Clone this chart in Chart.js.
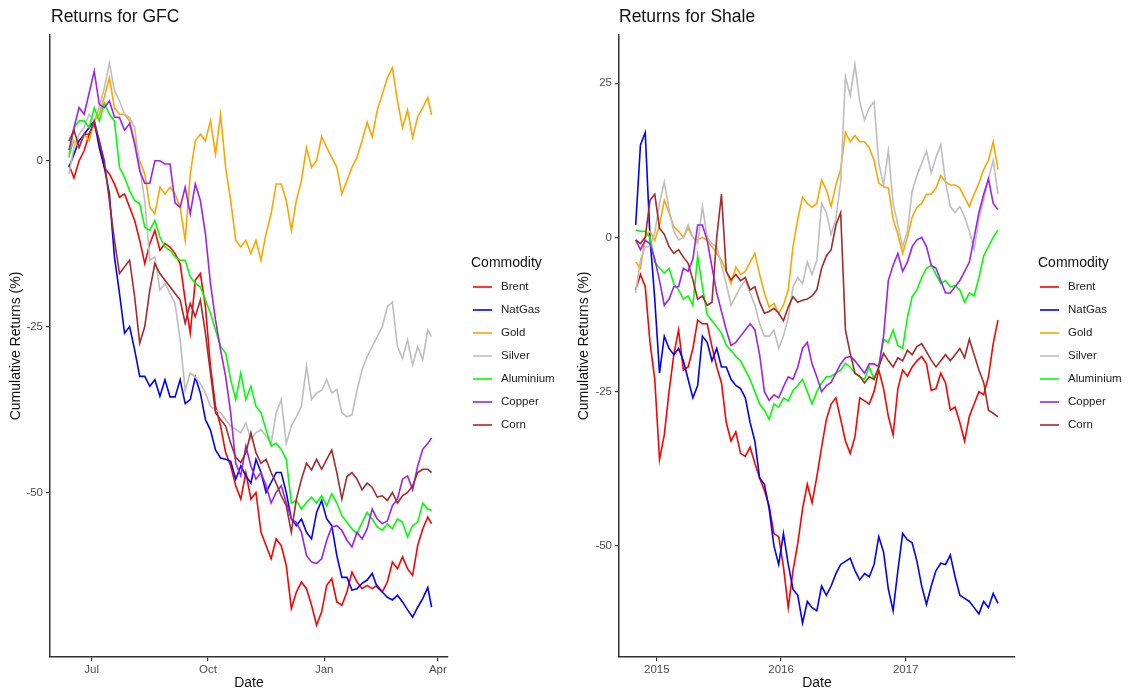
<!DOCTYPE html>
<html>
<head>
<meta charset="utf-8">
<title>Returns for GFC and Shale</title>
<script src="https://cdn.jsdelivr.net/npm/chart.js@4.4.0/dist/chart.umd.min.js"></script>
<style>
  html, body { margin: 0; padding: 0; background: #fff; }
  #wrap { position: relative; width: 1140px; height: 693px; }
  canvas { position: absolute; top: 0; }
  #gfc { left: 0; }
  #shale { left: 570px; }
</style>
</head>
<body>
<div id="wrap">
  <canvas id="gfc" width="570" height="693"></canvas>
  <canvas id="shale" width="570" height="693"></canvas>
</div>
<script>
const commodities = ['Brent', 'NatGas', 'Gold', 'Silver', 'Aluminium', 'Copper', 'Corn'];
const lineColours = ['#FF0000', '#0000FF', '#FFA500', '#BEBEBE', '#00FF00', '#A020F0', '#A52A2A'];

// GFC panel, x = days since 1 Jul 2008
const gfcDays = [-18,-14,-10,-6,-2,2,6,10,14,18,22,26,30,34,38,42,46,50,54,58,62,66,70,74,78,82,86,90,94,98,
  102,106,110,114,118,122,126,130,134,138,142,146,150,154,158,162,166,170,174,178,182,186,190,194,198,
  202,206,210,214,218,222,226,230,234,238,242,246,250,254,258,262,266,269];
const gfcTickDays = [0, 92, 184, 274];
const gfcTickLabels = ['Jul', 'Oct', 'Jan', 'Apr'];
const gfcYTicks = [-50, -25, 0];

const gfcBrent = [-0.6,-2.6,0,1.5,4,5.5,3,-1,-2,-3.5,-5.5,-5,-7,-9,-12,-15.5,-12.5,-10.5,-13.5,-12.5,
  -13,-14,-15.5,-21,-26,-18,-17,-22,-31,-37,-40,-44,-46,-49,-51,-47,-51,-50,-56,-58,
  -60,-57,-58,-61,-67.5,-65,-63.5,-64.5,-67,-70,-68,-64,-63,-66.5,-67,-65,-62,-63.5,-64.5,-64,
  -64.5,-64,-65,-63.5,-60.5,-61.5,-59.7,-61.5,-62.5,-58,-55.5,-53.7,-54.7];
const gfcNatGas = [-1,1,3,4,5,6,2,-1,-5,-14.5,-20,-26,-25,-28.5,-32.5,-32.5,-34,-33,-35.5,-33,
  -35.6,-35.6,-33,-36.6,-36,-32.6,-35,-39,-40.6,-43.6,-44.8,-45,-45.3,-48,-46,-47.5,-48.6,-45,-47,-50,
  -48.5,-47,-47,-50,-54,-55,-54,-56,-57,-53,-51.2,-54,-55,-59.5,-62.8,-62.8,-64.7,-64.5,-63.7,-63.2,
  -62.2,-64.3,-65,-65.8,-66.2,-65.5,-66.5,-67.7,-68.8,-67.3,-66,-64.3,-67.3];
const gfcGold = [1,3,2,4,3,6,7,9.6,12.5,8,7,7,6,3,0,-2,-7,-8,-4,-5,
  -4,-5,-7,-12,-2,3,4,3,6,1,7,-1,-6,-12,-13,-12,-14,-12,-15,-11,
  -8,-3.5,-3.5,-6,-10.5,-6,-3,2,-1,0,3.6,2,0.5,-1,-5,-3,-1,0.5,3,5.8,
  3.6,7.6,10,12.5,14,9,5,7.6,3.5,6.6,8,9.5,6.9];
const gfcSilver = [-2,2,4,5,7,6,8,11,14.7,10.6,9,7,6.5,5,-1,-6,-15,-14.5,-19.5,-18.5,
  -20,-21.5,-27,-34.6,-32,-32.6,-33.6,-35,-37,-37.6,-38,-39,-40,-40.5,-41,-39.5,-42,-41,-40.5,-41.5,
  -42.6,-38,-36,-42.6,-40,-38.6,-37,-31,-36,-35,-34.6,-33,-35,-34.5,-38,-38.6,-38.3,-34.6,-31.5,-29.5,
  -28,-26.5,-25,-22,-21.3,-28,-29.8,-27,-30.8,-28,-30,-25.5,-26.5];
const gfcAluminium = [0.5,5,6,6,5,8,6,8.7,7,6,-1,-2.5,-4.5,-6,-6.5,-10,-10.5,-9,-11.5,-13,
  -13.5,-14.5,-15,-15,-17.5,-18.5,-19,-21,-23,-25.5,-28,-29,-33,-36,-32,-36,-34,-37,-38,-40.6,
  -43,-42.6,-43.5,-45,-51.6,-51.2,-52.5,-51.5,-50.7,-51.6,-50.5,-52,-50.2,-51.6,-53.5,-54.5,-55.5,-56.2,-54.5,-53,
  -54,-55.2,-55.7,-54.7,-55.5,-54,-54.5,-56.7,-55,-54.5,-51.6,-52.5,-52.7];
const gfcCopper = [1.6,5,8,7,10.2,13.5,8.5,8,9,6.6,6.5,4.6,5.6,2.5,-1.5,-3.4,-3.4,0,0,-0.5,
  -0.5,-6.4,-7,-4,-8,-3.5,-6,-11,-18.5,-24,-28.5,-32.5,-38,-45.6,-47.5,-43,-46,-48,-47,-49,
  -51.6,-50,-49,-51.5,-54,-54.5,-56,-59.5,-60.5,-60.7,-60,-57.2,-55.2,-55,-55.7,-57.2,-58.2,-56,-57,-55.5,
  -52.5,-54,-54.7,-54.3,-52,-51,-48,-47.5,-49.6,-46,-43.5,-42.6,-41.8];
const gfcCorn = [3,4.6,2,4,4,6,3,0,-6,-12,-17,-16,-15,-20.5,-27.5,-25,-19.5,-15.5,-17,-18,
  -19,-20,-21,-24.5,-21.5,-23.5,-21,-26,-32,-38,-39,-40,-42.6,-44.7,-45.5,-44,-41,-44,-45.6,-45,
  -47,-48.6,-50.5,-52,-56,-51,-48,-45.6,-46.6,-45,-46.5,-45,-43.6,-47,-51,-47.6,-47,-48,-49.6,-48.6,
  -49.2,-50.7,-50.5,-51.2,-50,-51.6,-50.5,-50,-49,-47,-46.5,-46.5,-47];

// Shale panel, x = days since 1 Jan 2015
const shaleDays = [-62,-48,-34,-20,-6,8,22,36,50,64,78,92,106,120,134,148,162,176,190,204,
  218,232,246,260,274,288,302,316,330,344,358,372,386,400,414,428,442,456,470,484,
  498,512,526,540,554,568,582,596,610,624,638,652,666,680,694,708,722,736,750,764,
  778,792,806,820,834,848,862,876,890,904,918,932,946,960,974,988,1002];
const shaleTickDays = [0, 365, 731];
const shaleTickLabels = ['2015', '2016', '2017'];
const shaleYTicks = [-50, -25, 0, 25];

const shaleBrent = [-8.5,-6,-8,-17,-23,-36,-32,-25,-19,-15,-21.5,-21,-18,-13.4,-14,-14,-17.7,-21,-23.6,-30,
  -33,-31.5,-35,-35.5,-34,-36.6,-39,-41,-43.5,-48,-48.5,-53.4,-60,-54,-49.6,-44,-40,-43,-38.8,-34,
  -29.5,-27,-26,-29.5,-33,-35,-32.3,-26,-26.5,-27,-25,-21.5,-24.5,-29,-32,-24.5,-21.5,-22.5,-21,-20,
  -19.3,-20.5,-24.8,-24.5,-22,-23.6,-28,-27.5,-30,-33,-29,-27,-25,-25.5,-22.6,-17.2,-13.4];
const shaleNatGas = [2,15,17,0,-10,-22,-16,-18,-19,-18,-20,-23,-26,-24,-16,-17,-20,-18,-21,-21,
  -23,-24,-24.5,-26,-30,-33,-39,-40,-44,-50,-53,-48,-53,-57,-58,-62.5,-59,-60,-60.5,-56.5,
  -58,-56.5,-54.5,-53,-52.5,-52,-54,-55.5,-54.5,-55,-53,-48.5,-51,-57,-60.5,-54,-48,-49,-49.5,-52.5,
  -56.5,-59.5,-56.5,-54,-52.8,-53,-51.5,-55,-58,-58.5,-59,-60,-61,-59,-60,-57.7,-59.3];
const shaleGold = [-4,-5,0,1,-0.5,2,6,4,1.7,1,0,1.5,0,-0.4,0,-0.5,-1.5,-2.6,-3.7,-5.5,
  -7.5,-4.8,-6,-5.5,-4,-2.6,-6,-9,-11.3,-10.7,-12.3,-11,-8.5,-1.5,3,6.5,5.5,4.9,5.5,9.3,
  7.7,5,8.5,11,17,15.5,16.5,15.5,15.5,14.5,12.5,8.8,8.2,8,3,0.5,-2.6,0,3.3,4.9,
  5.5,7,7,8,10,9,8.5,8.5,8,6.5,5,7,8.8,11,12.5,15.5,11];
const shaleSilver = [-9,-3.7,-1.5,-1.5,0.7,5.5,9,4.5,1,-0.4,0,2,0,-1,5,0,-1,-1.5,-4.5,-7.5,
  -11,-9.5,-8,-7,-9,-11,-14,-16,-16,-15,-18,-16,-13,-8,-6.5,-7.5,-4,-6,-3.7,5.5,
  4,0.5,3,9,26,23,28,22,19,21,22,12,8.5,14,5.5,2,-1.5,1,7.5,10,
  12,14,10.5,13,15,9,5,4,5,3.3,1,-2,3,6,9.5,12.5,7];
const shaleAluminium = [1.2,1,1,0,-4,-5,-5.8,-5,-7.5,-8.5,-10,-9.5,-11,-3,-8,-12.5,-13.5,-14.5,-15.5,-17.5,
  -18.3,-19.3,-20,-21.5,-23,-25,-27,-28,-29.5,-27,-27.5,-26,-26.5,-24.8,-24,-23,-25,-27,-25,-23.6,
  -22.6,-22.5,-22,-21.5,-20.4,-21,-22,-22.6,-23,-21,-23,-21,-16.5,-17,-15,-17.5,-18,-13,-9.6,-8.5,
  -6.5,-5,-4.5,-6,-7.5,-7,-8,-7.8,-8.5,-10.5,-9,-9.5,-6.5,-3,-1.5,0,1.2];
const shaleCopper = [-0.4,-2,-0.5,-1,-3.5,-7,-11,-10,-8,-8,-5,-5.5,-3.5,2,2,-0.5,-4.8,-9,-12,-15,
  -17.5,-17,-16,-15,-14,-15,-19,-25,-26.4,-25.5,-26,-24.2,-22.6,-23,-21,-18,-17,-20.5,-22.6,-25,
  -24,-23.5,-22,-20.5,-19.5,-19.3,-20,-21,-22,-20.5,-20.5,-21,-16,-7,-4.5,-2.6,-5.5,-4,-1.5,-0.4,
  0,-1.5,-4.5,-5,-7,-9,-9,-8,-7,-5.5,-4,0,4,7,9.5,5.5,4.5];
const shaleCorn = [-0.4,-1,0,6,7,1.5,0.5,-1.5,-2.6,-2,-3.2,-4.2,-6.9,-10,-9.5,-11,-10.5,0,7,-5.5,
  -6.9,-6,-7,-6.5,-8.5,-8,-10.5,-12.3,-12,-11.5,-12.3,-13.5,-11.3,-9.6,-10.5,-10.2,-10,-9.5,-8.5,-5,
  -3,-2,2,4,-15,-18.8,-22,-22.5,-23.6,-22.6,-23,-21,-18.8,-20,-21,-19.5,-20,-18.3,-19,-17.7,
  -17.2,-18.5,-19.9,-21,-20,-19,-20,-19,-18,-19.5,-16.5,-19,-21.5,-23.5,-28,-28.5,-29.1];

Chart.defaults.font.family = '"Liberation Sans", Arial, Helvetica, sans-serif';

// panel title and the "Commodity" legend, drawn next to the plot area
const panelDecor = {
  id: 'panelDecor',
  afterDraw(chart, args, opts) {
    const ctx = chart.ctx;
    const area = chart.chartArea;
    const fam = Chart.defaults.font.family;
    ctx.save();
    ctx.textBaseline = 'middle';
    ctx.textAlign = 'left';
    ctx.fillStyle = '#111';
    ctx.font = '17.5px ' + fam;
    ctx.fillText(opts.title, area.left + opts.titleDx, 17);

    const lx = area.right;
    ctx.font = '14px ' + fam;
    ctx.fillText('Commodity', lx + 23, 263);
    ctx.font = '11.5px ' + fam;
    chart.data.datasets.forEach((ds, i) => {
      const y = 287 + 23 * i;
      ctx.strokeStyle = ds.borderColor;
      ctx.lineWidth = 1.6;
      ctx.beginPath();
      ctx.moveTo(lx + 25, y);
      ctx.lineTo(lx + 44, y);
      ctx.stroke();
      ctx.fillStyle = '#222';
      ctx.fillText(ds.label, lx + 53, y);
    });
    ctx.restore();
  }
};

function makePanel(id, cfg) {
  const datasets = cfg.series.map((vals, i) => ({
    label: commodities[i],
    data: cfg.days.map((d, j) => ({ x: d, y: vals[j] })),
    borderColor: lineColours[i],
    borderWidth: 1.6,
    pointRadius: 0,
    tension: 0,
    order: 7 - i
  }));

  return new Chart(document.getElementById(id), {
    type: 'line',
    data: { datasets: datasets },
    plugins: [panelDecor],
    options: {
      responsive: false,
      animation: false,
      layout: { padding: { left: 0, right: cfg.padRight, top: 35, bottom: 0 } },
      plugins: {
        legend: { display: false },
        tooltip: { enabled: false },
        panelDecor: { title: cfg.title, titleDx: cfg.titleDx }
      },
      scales: {
        x: {
          type: 'linear',
          min: cfg.xMin,
          max: cfg.xMax,
          afterBuildTicks: s => { s.ticks = cfg.xTicks.map(v => ({ value: v })); },
          afterFit: s => { s.height = 36; },
          ticks: {
            callback: (v, i) => cfg.xLabels[i],
            autoSkip: false, maxRotation: 0,
            color: '#4d4d4d', font: { size: 11.5 }, padding: 2
          },
          grid: { drawOnChartArea: false, drawTicks: true, tickLength: 4, color: '#333', lineWidth: 1.2 },
          border: { display: true, color: '#333', width: 1.5 },
          title: { display: true, text: 'Date', color: '#111', font: { size: 14 }, padding: { top: 0, bottom: 1 } }
        },
        y: {
          type: 'linear',
          min: cfg.yMin,
          max: cfg.yMax,
          afterBuildTicks: s => { s.ticks = cfg.yTicks.map(v => ({ value: v })); },
          afterFit: s => { s.width = cfg.yWidth; },
          ticks: { callback: v => String(v), color: '#4d4d4d', font: { size: 11.5 }, padding: 3 },
          grid: { drawOnChartArea: false, drawTicks: true, tickLength: 4, color: '#333', lineWidth: 1.2 },
          border: { display: true, color: '#333', width: 1.5 },
          title: { display: true, text: 'Cumulative Returns (%)', color: '#111', font: { size: 14 }, padding: { top: cfg.yTitlePad, bottom: 0 } }
        }
      }
    }
  });
}

makePanel('gfc', {
  title: 'Returns for GFC', titleDx: 1,
  days: gfcDays,
  series: [gfcBrent, gfcNatGas, gfcGold, gfcSilver, gfcAluminium, gfcCopper, gfcCorn],
  xTicks: gfcTickDays, xLabels: gfcTickLabels, yTicks: gfcYTicks,
  xMin: -33, xMax: 282, yMin: -74.8, yMax: 18.95,
  padRight: 122, yWidth: 50, yTitlePad: 8
});

makePanel('shale', {
  title: 'Returns for Shale', titleDx: 0,
  days: shaleDays,
  series: [shaleBrent, shaleNatGas, shaleGold, shaleSilver, shaleAluminium, shaleCopper, shaleCorn],
  xTicks: shaleTickDays, xLabels: shaleTickLabels, yTicks: shaleYTicks,
  xMin: -111, xMax: 1052, yMin: -68, yMax: 32.8,
  padRight: 125, yWidth: 49, yTitlePad: 5.5
});
</script>
</body>
</html>
